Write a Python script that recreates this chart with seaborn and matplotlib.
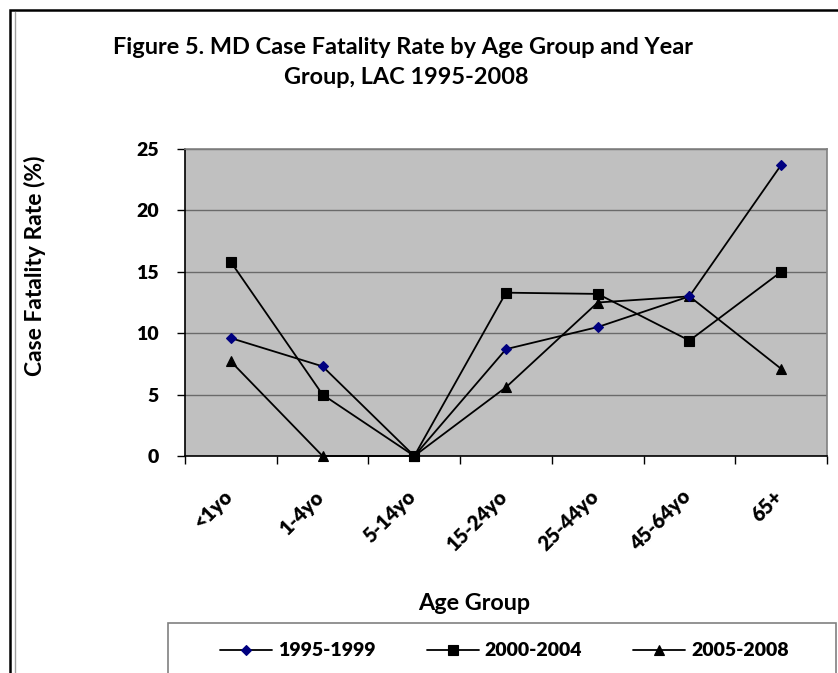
import numpy as np
import pandas as pd
import matplotlib
matplotlib.use("Agg")
import matplotlib.pyplot as plt
import matplotlib.transforms as mtransforms
from matplotlib import font_manager as fm
from matplotlib.patches import Rectangle
from matplotlib.lines import Line2D
import seaborn as sns

# ---- data ----
age_groups = ["<1yo", "1-4yo", "5-14yo", "15-24yo", "25-44yo", "45-64yo", "65+"]
series_names = ["1995-1999", "2000-2004", "2005-2008"]
rate_1995_1999 = [9.6, 7.3, 0.0, 8.7, 10.5, 13.0, 23.7]
rate_2000_2004 = [15.8, 5.0, 0.0, 13.3, 13.2, 9.4, 15.0]
rate_2005_2008 = [7.7, 0.0, 0.0, 5.6, 12.5, 13.0, 7.1]
y_ticks = [0, 5, 10, 15, 20, 25]

title_line1 = "Figure 5. MD Case Fatality Rate by Age Group and Year"
title_line2 = "Group, LAC 1995-2008"
x_label = "Age Group"
y_label = "Case Fatality Rate (%)"

df = pd.DataFrame({
    "age": age_groups * 3,
    "rate": rate_1995_1999 + rate_2000_2004 + rate_2005_2008,
    "series": [series_names[0]] * 7 + [series_names[1]] * 7 + [series_names[2]] * 7,
})

sns.set_style("white")
plt.rcParams["font.family"] = "Lato"
for k in ["text.color", "axes.labelcolor", "xtick.color", "ytick.color"]:
    plt.rcParams[k] = "black"


def fp(size, weight="bold"):
    return fm.FontProperties(family="Lato", weight=weight, size=size)


W, H = 838, 673
fig = plt.figure(figsize=(W / 100, H / 100), dpi=100)
fig.patch.set_facecolor("white")

L, R, T, B = 185, 827, 149, 456
ax = fig.add_axes([L / W, 1 - B / H, (R - L) / W, (B - T) / H])
ax.set_facecolor("#C0C0C0")

styles = {
    "1995-1999": dict(marker="D", markersize=5.5, markerfacecolor="#000080",
                      markeredgecolor="#000080", zorder=4),
    "2000-2004": dict(marker="s", markersize=7, markerfacecolor="black",
                      markeredgecolor="black", zorder=5),
    "2005-2008": dict(marker="^", markersize=7.5, markerfacecolor="black",
                      markeredgecolor="black", zorder=3),
}

for name in series_names:
    sub = df[df["series"] == name]
    sns.lineplot(data=sub, x="age", y="rate", ax=ax, color="black",
                 linewidth=1.3, markeredgewidth=0.8, legend=False,
                 sort=False, clip_on=False, **styles[name])

ax.set_xlim(-0.5, len(age_groups) - 0.5)
ax.set_ylim(0, 25)

# y axis
ax.set_yticks(y_ticks)
ax.set_yticklabels([str(t) for t in y_ticks])
ax.tick_params(axis="y", which="major", direction="out", length=6, width=1,
               color="black", pad=13, left=True)

# x axis: boundary ticks + category labels
ax.set_xticks(np.arange(-0.5, len(age_groups)), labels=[""] * (len(age_groups) + 1))
ax.set_xticks(np.arange(len(age_groups)), minor=True)
ax.set_xticklabels(age_groups, minor=True)
ax.tick_params(axis="x", which="major", direction="out", length=6, width=1,
               color="black", bottom=True)
ax.tick_params(axis="x", which="minor", length=0, pad=22)

for lbl in ax.get_yticklabels():
    lbl.set_fontproperties(fp(14, 800))
    lbl.set_color("black")
offset = mtransforms.ScaledTranslation(5 / 100, 0, fig.dpi_scale_trans)
for lbl in ax.get_xticklabels(minor=True):
    lbl.set_fontproperties(fp(14.5, 800))
    lbl.set_color("black")
    lbl.set_rotation(45)
    lbl.set_ha("right")
    lbl.set_va("top")
    lbl.set_transform(lbl.get_transform() + offset)

ax.grid(axis="y", which="major", color="#6a6a6a", linewidth=1)
ax.grid(axis="x", visible=False)
ax.set_axisbelow(True)

for side in ["left", "bottom"]:
    ax.spines[side].set_color("black")
    ax.spines[side].set_linewidth(1.2)
for side in ["top", "right"]:
    ax.spines[side].set_color("#808080")
    ax.spines[side].set_linewidth(1.2)
    ax.spines[side].set_visible(True)

ax.set_xlabel(x_label, fontproperties=fp(16.8), va="center", color="black")
ax.xaxis.set_label_coords((474 - L) / (R - L), (B - 603) / (B - T))
ax.set_ylabel(y_label, fontproperties=fp(16.5), va="center", color="black")
ax.yaxis.set_label_coords((35 - L) / (R - L), (B - 266) / (B - T))

# title
fig.text(403 / W, 1 - 47 / H, title_line1, ha="center", va="center",
         fontproperties=fp(16.9), color="black")
fig.text(406 / W, 1 - 77 / H, title_line2, ha="center", va="center",
         fontproperties=fp(16.9), color="black")

# legend
handles = [Line2D([], [], color="black", linewidth=1.3, markeredgewidth=0.8,
                  **{k: v for k, v in styles[n].items() if k != "zorder"})
           for n in series_names]
LEG_FS = 14
leg = fig.legend(handles, series_names, loc="center left",
                 bbox_to_anchor=(220 / W, 1 - 651 / H), ncol=3, frameon=False,
                 borderpad=0, borderaxespad=0, handlelength=52 * 0.72 / LEG_FS,
                 handletextpad=6 * 0.72 / LEG_FS, columnspacing=51 * 0.72 / LEG_FS,
                 prop=fp(LEG_FS, 800), labelcolor="black")

fig.add_artist(Rectangle((168 / W, 1 - 710 / H), (836 - 168) / W, (710 - 623) / H,
                         transform=fig.transFigure, fill=False,
                         edgecolor="#808080", linewidth=1.2))

# chart frame
fig.add_artist(Rectangle((10 / W, 1 - 720 / H), (900 - 10) / W, (720 - 10) / H,
                         transform=fig.transFigure, fill=False,
                         edgecolor="black", linewidth=1.8))
fig.add_artist(Line2D([14.5 / W, 14.5 / W], [1 - 12 / H, 0],
                      transform=fig.transFigure, color="#a0a0a0", linewidth=1))

fig.savefig("out.png", dpi=100)
